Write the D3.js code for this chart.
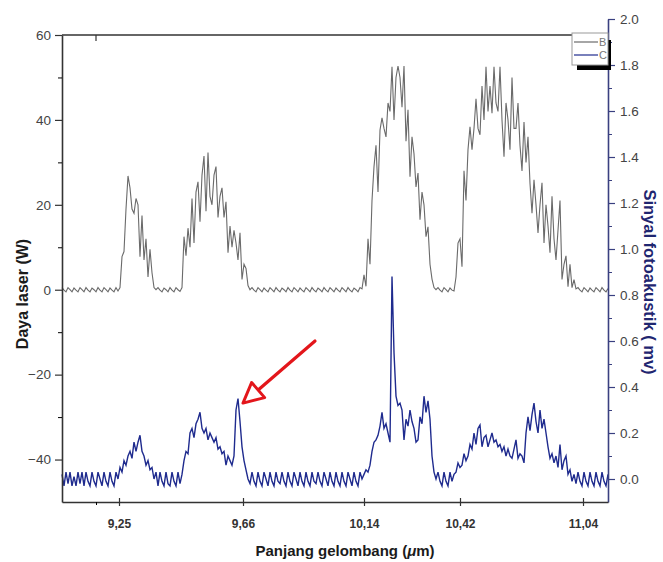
<!DOCTYPE html>
<html>
<head>
<meta charset="utf-8">
<script src="https://cdn.jsdelivr.net/npm/d3@7"></script>
<style>
  body { margin: 0; background: #fff; }
  svg { display: block; font-family: "Liberation Sans", Arial, sans-serif; }
</style>
</head>
<body>
<div id="scene"></div>
<script>
// laser power (W), one reading per spectrometer channel
const laserPower = [
  0.5,-0.1,-0.5,0.5,0,-0.5,0.4,-0.1,-0.5,0.5,0,-0.5,0.5,-0.1,-0.5,0.4,0,-0.5,0.5,-0.1,-0.5,0.5,0,-0.5,0.4,-0.1,-0.5,0.5,-0.3,
  0.5,7.8,9,19,26.8,24,19,18,21.5,20,7.8,17.5,7,12,3,9.5,4,0.5,0,
  0.5,-0.1,-0.5,0.4,0,-0.5,0.5,-0.1,-0.5,0.5,0,-0.4,
  0.5,12.5,8,14.5,10,21.5,11,23,25.4,16,27,31.5,18.5,32.3,22,20,27,29,17,22,
  24,17,20.7,8.7,15,10,14,11,7,13.4,2.4,6,5,1,0,
  0.5,-0.1,-0.5,0.5,0,-0.5,0.4,-0.1,-0.5,0.5,0,-0.5,0.5,-0.1,-0.5,0.4,0,-0.5,0.5,-0.1,
  -0.5,0.5,0,-0.5,0.4,-0.1,-0.5,0.5,0,-0.5,0.5,-0.1,-0.5,0.4,0,-0.5,0.5,-0.1,-0.5,0.5,
  0,-0.5,0.4,-0.1,-0.5,0.5,0,-0.5,0.5,-0.1,-0.5,0.4,0,-0.5,0.5,0.2,
  3.5,0.8,12,6,21,29,34,23,37.6,40.5,38,36,44,42,52.5,40,50,52.7,50,43,
  52.7,35,42.4,26.6,36,32,24.2,27.5,16.5,23,20,12.5,14.8,6,2.5,0.5,0,
  0.5,-0.1,-0.5,0.5,0,-0.5,0.4,-0.1,-0.3,
  3,11,12,5.4,28,21,33,38.4,33,38,45,38,36.5,48,40,52.5,42,48,41.6,52.5,
  44,42,52.5,40,31.3,44,40,33,50,38,38,44,34,28,39.5,30,36,25,18,25.9,
  20,13.4,20,25.2,11,20,15,8.7,22,12,7,14,21,2.4,6,8,0.7,6,0.5,2.4,0.2,
  0.5,-0.1,-0.5,0.5,0,-0.5,0.4,-0.1,-0.5,0.5,0,-0.5,0.5,-0.1,-0.5,0.3
];

// photoacoustic signal (mV), same channels
const photoSignal = [
  0.02,-0.03,0.03,-0.02,0.03,-0.03,0.01,-0.03,0.03,-0.02,0.03,-0.03,
  0.03,-0.01,-0.03,0.03,-0.01,-0.03,0.03,0,-0.03,0.03,-0.01,-0.03,0.03,-0.01,-0.03,0.03,0,
  0.05,0.03,0.08,0.06,0.1,0.12,0.09,0.16,0.12,0.16,0.19,0.12,0.1,0.06,0.08,0.04,0.05,0,0.03,
  -0.03,0.03,-0.01,-0.03,0.03,-0.02,-0.03,0.03,-0.01,-0.03,0.03,-0.02,
  0.02,0.08,0.12,0.11,0.2,0.22,0.18,0.24,0.26,0.29,0.22,0.2,0.22,0.17,0.2,0.18,0.16,0.18,0.13,0.14,
  0.11,0.12,0.06,0.1,0.08,0.06,0.1,0.3,0.35,0.25,0.14,0.08,0.04,0,-0.02,
  0.03,-0.01,-0.03,0.03,-0.01,-0.03,0.03,0,-0.03,0.03,-0.01,-0.03,0.03,-0.01,-0.02,0.03,-0.01,-0.03,0.03,-0.01,
  -0.03,0.03,0,-0.03,0.03,-0.01,-0.03,0.03,-0.01,-0.03,0.03,-0.01,-0.02,0.03,-0.01,-0.03,0.03,0,-0.03,0.03,
  -0.01,-0.03,0.03,-0.01,-0.03,0.03,-0.01,-0.03,0.03,0,-0.03,0.03,-0.01,-0.03,0.03,0,
  0.02,0.04,0.03,0.06,0.12,0.16,0.17,0.19,0.23,0.29,0.22,0.24,0.2,0.16,0.88,0.55,0.36,0.32,0.33,0.3,
  0.17,0.26,0.23,0.3,0.25,0.22,0.16,0.17,0.27,0.24,0.36,0.29,0.34,0.26,0.1,0.03,0,
  0.03,-0.01,-0.03,0.03,-0.01,-0.03,0.03,-0.01,0.02,
  0.03,0.07,0.05,0.06,0.11,0.08,0.1,0.15,0.13,0.2,0.15,0.22,0.235,0.14,0.18,0.19,0.14,0.17,0.2,0.16,
  0.17,0.14,0.15,0.12,0.14,0.1,0.13,0.1,0.09,0.13,0.17,0.09,0.11,0.1,0.07,0.2,0.27,0.21,0.28,0.33,
  0.25,0.2,0.3,0.22,0.26,0.2,0.14,0.09,0.11,0.07,0.1,0.05,0.15,0.04,0.08,0.1,0.02,0.04,-0.01,0.02,-0.02,
  0.03,-0.01,-0.03,0.03,-0.01,-0.03,0.03,-0.01,-0.03,0.03,-0.01,-0.03,0.03,-0.01,-0.03,0.02
];

// wavelength labels (µm) and the channels they sit on
const wavelengthLabels = ["9,25", "9,66", "10,14", "10,42", "11,04"];
const wavelengthChannels = [28.5, 90.5, 151, 199, 260.5];
const minorChannels = [17];

const powerTicks = [-40, -20, 0, 20, 40, 60];
const powerMinor = [-30, -10, 10, 30, 50];
const signalTicks = [0, 0.2, 0.4, 0.6, 0.8, 1.0, 1.2, 1.4, 1.6, 1.8, 2.0];
const signalMinor = [0.1, 0.3, 0.5, 0.7, 0.9, 1.1, 1.3, 1.5, 1.7, 1.9];

const seriesNames = ["B", "C"];
const seriesColors = ["#6a6a6a", "#1f2b8e"];

// arrow pointing at the absorption spike (channel, signal)
const arrowTail = [126.5, 0.6];
const arrowTip = [90.5, 0.33];

const svg = d3.select("#scene").append("svg")
  .attr("width", 663)
  .attr("height", 562);

const x = d3.scaleLinear().domain([0, laserPower.length - 1]).range([62, 608]);
const yL = d3.scaleLinear().domain([-50, 60]).range([502, 35]);
const yR = d3.scaleLinear().domain([-0.1, 2.0]).range([502, 19]);

// top frame line
svg.append("line")
  .attr("x1", x.range()[0]).attr("x2", x.range()[1])
  .attr("y1", yL(60)).attr("y2", yL(60))
  .style("stroke", "#333").style("stroke-width", 1.5);

svg.append("line")
  .attr("x1", x(minorChannels[0])).attr("x2", x(minorChannels[0]))
  .attr("y1", yL(60)).attr("y2", yL(60) + 6)
  .style("stroke", "#333").style("stroke-width", 1.2);

// curves
const lineL = d3.line().x((d, i) => x(i)).y(d => yL(d));
const lineR = d3.line().x((d, i) => x(i)).y(d => yR(d));

svg.append("path")
  .datum(laserPower)
  .attr("d", lineL)
  .style("fill", "none")
  .style("stroke", seriesColors[0])
  .style("stroke-width", 1.1);

svg.append("path")
  .datum(photoSignal)
  .attr("d", lineR)
  .style("fill", "none")
  .style("stroke", seriesColors[1])
  .style("stroke-width", 1.4);

// left axis
const gL = svg.append("g")
  .attr("transform", "translate(62,0)")
  .call(d3.axisLeft(yL).tickValues(powerTicks).tickSize(7).tickSizeOuter(0).tickPadding(4));
svg.append("g")
  .attr("transform", "translate(62,0)")
  .call(d3.axisLeft(yL).tickValues(powerMinor).tickSize(4).tickSizeOuter(0).tickFormat(""))
  .select(".domain").remove();
gL.select(".domain").style("stroke", "#333").style("stroke-width", 1.6);
gL.selectAll(".tick line").style("stroke", "#333").style("stroke-width", 1.2);
gL.selectAll(".tick text").style("font-size", "13.5px").style("fill", "#444");

// right axis
const gR = svg.append("g")
  .attr("transform", "translate(608,0)")
  .call(d3.axisRight(yR).tickValues(signalTicks).tickSize(7).tickSizeOuter(0).tickPadding(5).tickFormat(d3.format(".1f")));
const gRm = svg.append("g")
  .attr("transform", "translate(608,0)")
  .call(d3.axisRight(yR).tickValues(signalMinor).tickSize(4).tickSizeOuter(0).tickFormat(""));
gRm.select(".domain").remove();
gRm.selectAll(".tick line").style("stroke", "#3a4080");
gR.select(".domain").style("stroke", "#3a4080").style("stroke-width", 1.6);
gR.selectAll(".tick line").style("stroke", "#3a4080").style("stroke-width", 1.2);
gR.selectAll(".tick text").style("font-size", "13.5px").style("fill", "#444");

// bottom axis
const gB = svg.append("g")
  .attr("transform", "translate(0,502)")
  .call(d3.axisBottom(x).tickValues(wavelengthChannels).tickSize(4).tickSizeOuter(0).tickPadding(13)
    .tickFormat((d, i) => wavelengthLabels[i]));
gB.selectAll(".tick line").attr("y1", -4).style("stroke", "#333").style("stroke-width", 1.2);
gB.select(".domain").style("stroke", "#333").style("stroke-width", 1.6);
gB.selectAll(".tick text").style("font-size", "12px").style("font-weight", "bold").style("fill", "#333");
svg.append("g")
  .attr("transform", "translate(0,502)")
  .call(d3.axisBottom(x).tickValues(minorChannels).tickSize(3).tickSizeOuter(0).tickFormat(""))
  .select(".domain").remove();

// axis titles
svg.append("text")
  .attr("transform", "translate(22,294) rotate(-90)")
  .attr("text-anchor", "middle")
  .attr("dominant-baseline", "central")
  .style("font-size", "16px").style("font-weight", "bold").style("fill", "#1b1b1b")
  .text("Daya laser (W)");

svg.append("text")
  .attr("transform", "translate(650,282) rotate(90)")
  .attr("text-anchor", "middle")
  .attr("dominant-baseline", "central")
  .style("font-size", "16.5px").style("font-weight", "bold").style("fill", "#1f2670")
  .text("Sinyal fotoakustik ( mv)");

const xt = svg.append("text")
  .attr("x", 345).attr("y", 556)
  .attr("text-anchor", "middle")
  .style("font-size", "15px").style("font-weight", "bold").style("fill", "#1b1b1b");
xt.append("tspan").text("Panjang gelombang (");
xt.append("tspan").style("font-style", "italic").text("μ");
xt.append("tspan").text("m)");

// legend with its dark shadow
const legend = svg.append("g").attr("class", "legend");
legend.append("rect").attr("x", 577).attr("y", 64).attr("width", 34).attr("height", 6).style("fill", "#000");
legend.append("rect").attr("x", 605).attr("y", 40).attr("width", 6).attr("height", 30).style("fill", "#000");
legend.append("rect")
  .attr("x", 572).attr("y", 33).attr("width", 36).attr("height", 32)
  .style("fill", "#fff").style("stroke", "#999").style("stroke-width", 1);
seriesNames.forEach((name, i) => {
  const row = legend.append("g").attr("transform", `translate(574, ${42 + i * 13})`);
  row.append("line").attr("x1", 0).attr("x2", 24).style("stroke", seriesColors[i]).style("stroke-width", 1.2);
  row.append("text").attr("x", 25).attr("dominant-baseline", "central")
    .style("font-size", "11px").style("fill", "#777").text(name);
});

// red arrow
const tail = [x(arrowTail[0]), yR(arrowTail[1])];
const tip = [x(arrowTip[0]), yR(arrowTip[1])];
const dx = tail[0] - tip[0], dy = tail[1] - tip[1];
const len = Math.hypot(dx, dy);
const ux = dx / len, uy = dy / len;
const base = [tip[0] + ux * 20, tip[1] + uy * 20];
svg.append("line")
  .attr("x1", tail[0]).attr("y1", tail[1]).attr("x2", base[0]).attr("y2", base[1])
  .style("stroke", "#e3161b").style("stroke-width", 3.2).style("stroke-linecap", "round");
svg.append("polygon")
  .attr("points", [
    tip,
    [base[0] - uy * 10, base[1] + ux * 10],
    [base[0] + uy * 10, base[1] - ux * 10]
  ].map(p => p.join(",")).join(" "))
  .style("fill", "#fff").style("stroke", "#e3161b").style("stroke-width", 3).style("stroke-linejoin", "round");
</script>
</body>
</html>
